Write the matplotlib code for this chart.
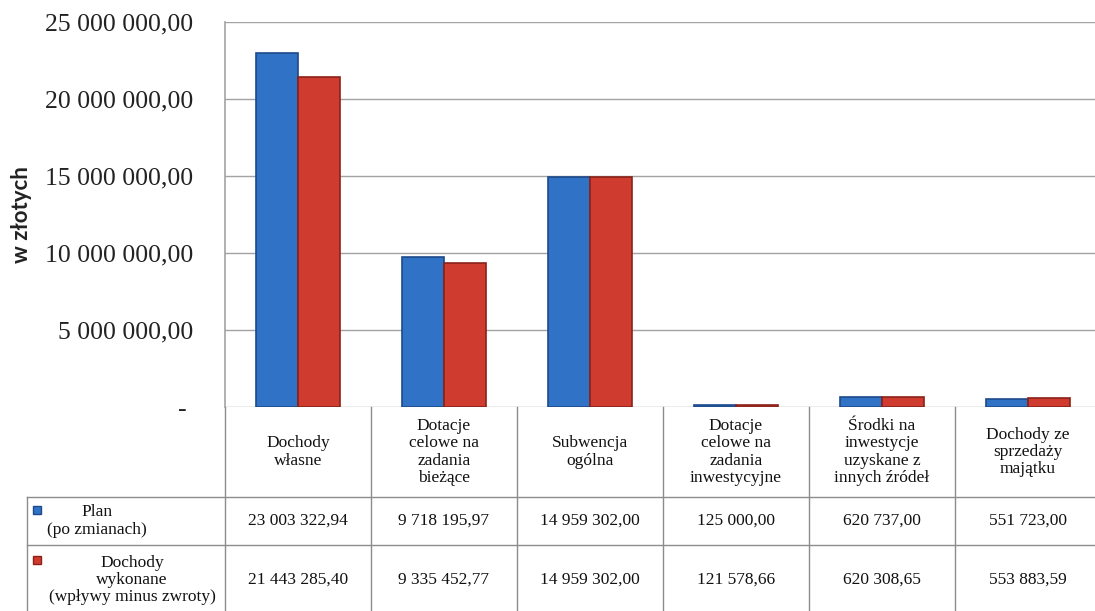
import numpy as np
import matplotlib
matplotlib.use("Agg")
import matplotlib.pyplot as plt
from matplotlib.transforms import blended_transform_factory

# dane z wykresu
kategorie = ["Dochody\nwłasne",
             "Dotacje\ncelowe na\nzadania\nbieżące",
             "Subwencja\nogólna",
             "Dotacje\ncelowe na\nzadania\ninwestycyjne",
             "Środki na\ninwestycje\nuzyskane z\ninnych źródeł",
             "Dochody ze\nsprzedaży\nmajątku"]
plan = [23003322.94, 9718195.97, 14959302.00, 125000.00, 620737.00, 551723.00]
wykonane = [21443285.40, 9335452.77, 14959302.00, 121578.66, 620308.65, 553883.59]
serie = ["Plan\n(po zmianach)", "Dochody\nwykonane\n(wpływy minus zwroty)"]
y_ticks = [0, 5e6, 10e6, 15e6, 20e6, 25e6]


def fmt_pl(v):
    return f"{v:,.2f}".replace(",", " ").replace(".", ",")


SERIF = "Liberation Serif"
BLUE, BLUE_E = "#2f72c6", "#1d4a8a"
RED, RED_E = "#cf3b2e", "#8a2219"
GRID = "#a3a3a3"

W, H = 1095, 611
fig = plt.figure(figsize=(W / 100, H / 100), dpi=100)

# obszar wykresu (piksele: x 225..1101, y 22..407)
ax = fig.add_axes([225 / W, (H - 407) / H, 876 / W, 385 / H])
x = np.arange(len(kategorie)) + 0.5
bw = 0.29
ax.bar(x - bw / 2, plan, bw, color=BLUE, edgecolor=BLUE_E, linewidth=1.2, zorder=3)
ax.bar(x + bw / 2, wykonane, bw, color=RED, edgecolor=RED_E, linewidth=1.2, zorder=3)
ax.set_xlim(0, len(kategorie))
ax.set_ylim(0, 25e6)
ax.set_yticks(y_ticks)
ax.set_yticklabels([fmt_pl(v) if v else "- " for v in y_ticks],
                   fontfamily=SERIF, fontsize=18.5, color="#222222")
ax.tick_params(axis="y", length=0, pad=23)
ax.set_xticks([])
ax.yaxis.grid(True, color=GRID, linewidth=1.0)
ax.set_axisbelow(True)
for s in ["top", "right", "bottom"]:
    ax.spines[s].set_visible(False)
ax.spines["left"].set_color(GRID)
ax.spines["left"].set_linewidth(1.2)

fig.text(22 / W, (H - 215) / H, "w złotych", rotation=90, ha="center", va="center",
         fontfamily="Lato", fontweight="bold", fontsize=16, color="#222222")

# tabela danych pod wykresem
tab = fig.add_axes([0, 0, 1, (H - 407) / H])
tab.set_xlim(0, 1)
tab.set_ylim(0, 1)
tab.axis("off")
tr = blended_transform_factory(ax.transData, tab.transAxes)


def ty(py):
    return (H - py) / (H - 407)


edge_kw = dict(color="#8c8c8c", linewidth=1.0, clip_on=False)
# linie pionowe kolumn
for i in range(len(kategorie) + 1):
    tab.plot([i, i], [0, 1], transform=tr, **edge_kw)
# linie poziome wierszy
for py in [497, 545]:
    tab.plot([27 / W, 1], [ty(py), ty(py)], **edge_kw)
tab.plot([27 / W, 27 / W], [0, ty(497)], **edge_kw)

for i, k in enumerate(kategorie):
    tab.text(x[i], ty(452), k, transform=tr, ha="center", va="center",
             fontfamily=SERIF, fontsize=12.5, linespacing=1.12, color="#111111")
    tab.text(x[i], ty(521), fmt_pl(plan[i]), transform=tr, ha="center", va="center",
             fontfamily=SERIF, fontsize=12.5, color="#111111")
    tab.text(x[i], ty(580), fmt_pl(wykonane[i]), transform=tr, ha="center", va="center",
             fontfamily=SERIF, fontsize=12.5, color="#111111")

# opisy serii z kolorowymi znacznikami
tab.plot([37 / W], [ty(510)], marker="s", markersize=6, color=BLUE,
         markeredgecolor=BLUE_E)
tab.plot([37 / W], [ty(560)], marker="s", markersize=6, color=RED,
         markeredgecolor=RED_E)
tab.text(97 / W, ty(521), serie[0], ha="center", va="center",
         fontfamily=SERIF, fontsize=12.5, linespacing=1.12, color="#111111")
tab.text(132 / W, ty(580), serie[1], ha="center", va="center",
         fontfamily=SERIF, fontsize=12.5, linespacing=1.12, color="#111111")

fig.savefig("out.png", dpi=100)
